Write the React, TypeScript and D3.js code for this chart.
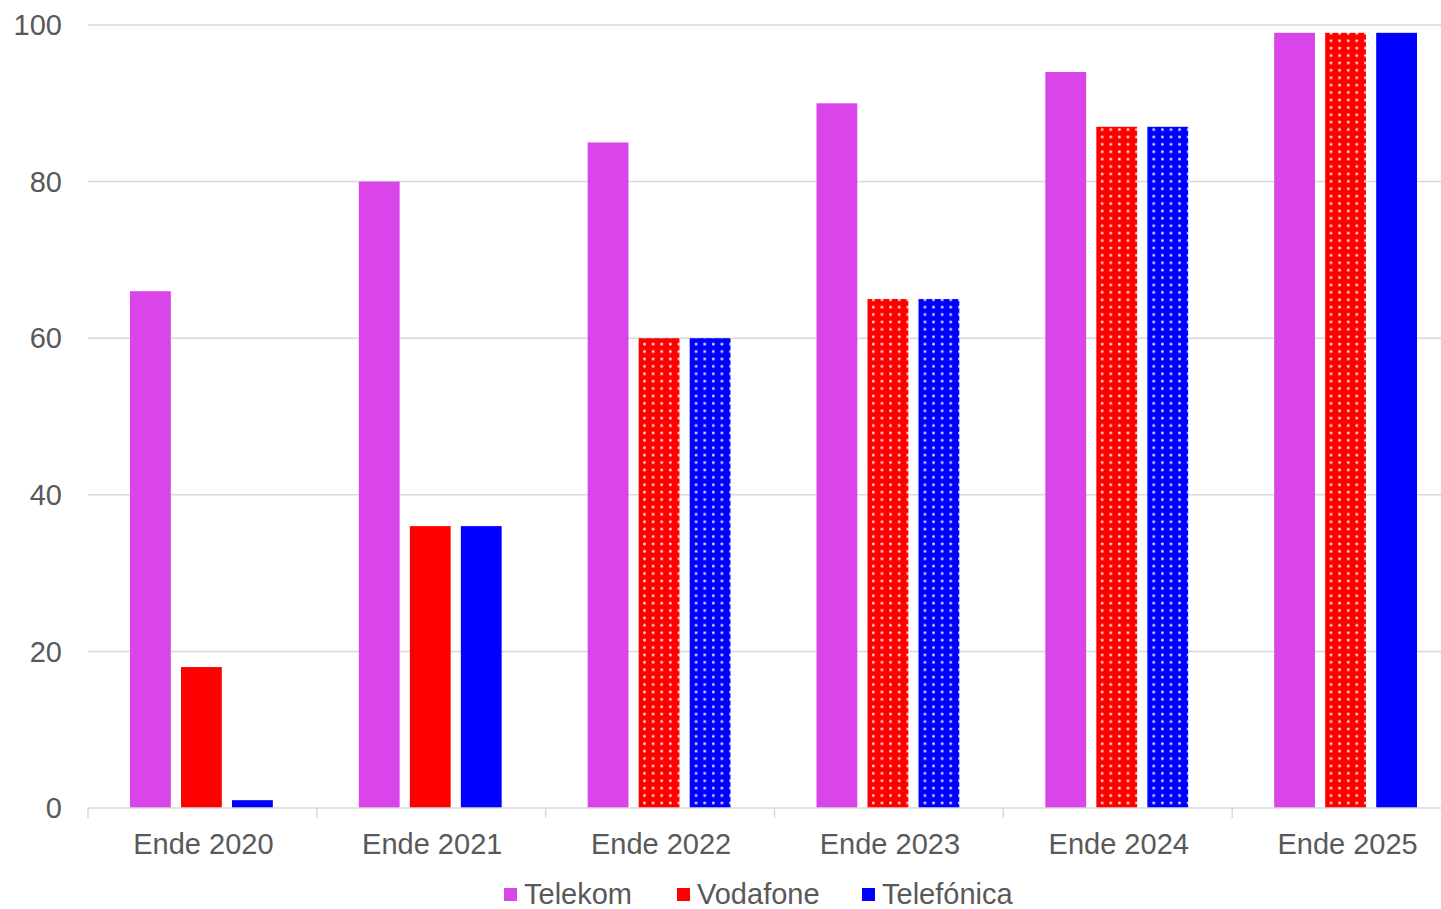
import React from "react";
import * as d3 from "d3";

const categories = ["Ende 2020", "Ende 2021", "Ende 2022", "Ende 2023", "Ende 2024", "Ende 2025"];
const seriesNames = ["Telekom", "Vodafone", "Telefónica"];
const seriesColors = ["#DA45EA", "#FF0000", "#0000FF"];
const telekom = [66, 80, 85, 90, 94, 99];
const vodafone = [18, 36, 60, 65, 87, 99];
const telefonica = [1, 36, 60, 65, 87, 99];
// dotted pattern flags (per series, per category)
const vodafoneDotted = [false, false, true, true, true, true];
const telefonicaDotted = [false, false, true, true, true, false];
const telekomDotted = [false, false, false, false, false, false];
const yTicks = [0, 20, 40, 60, 80, 100];

const W = 1441;
const H = 909;
const FONT = "'Liberation Sans', Arial, sans-serif";

export default function App() {
  const values = [telekom, vodafone, telefonica];
  const dotted = [telekomDotted, vodafoneDotted, telefonicaDotted];
  const left = 88;
  const plotRight = 1461;
  const top = 25;
  const bottom = 808;

  const x = d3.scaleBand<string>().domain(categories).range([left, plotRight]).paddingInner(0).paddingOuter(0);
  const inner = d3
    .scaleBand<string>()
    .domain(seriesNames)
    .range([42, x.bandwidth() - 44])
    .paddingInner(0.2);
  const y = d3.scaleLinear().domain([0, 100]).range([bottom, top]);

  const legendX = [504, 677, 862];

  return (
    <svg
      width={W}
      height={H}
      style={{ position: "fixed", left: 0, top: 0, background: "#fff" }}
      fontFamily={FONT}
    >
      <defs>
        {seriesColors.map((c, i) => (
          <pattern key={i} id={`dots${i}`} width={8.6} height={7.4} patternUnits="userSpaceOnUse">
            <rect width={8.6} height={7.4} fill={c} />
            <rect x={3} y={2.5} width={2.5} height={2.5} fill="#fff" opacity={0.85} />
          </pattern>
        ))}
      </defs>
      {yTicks.map((t) => (
        <g key={t}>
          {t !== 0 && (
            <line x1={left} x2={W} y1={y(t)} y2={y(t)} stroke="#d9d9d9" strokeWidth={1.5} />
          )}
          <text x={62} y={y(t)} dy="0.35em" textAnchor="end" fontSize={29} fill="#595959">
            {t}
          </text>
        </g>
      ))}
      {categories.map((c, ci) => (
        <g key={c} transform={`translate(${x(c)},0)`}>
          {seriesNames.map((s, si) => {
            const v = values[si][ci];
            return (
              <rect
                key={s}
                x={inner(s)}
                y={y(v)}
                width={inner.bandwidth()}
                height={y(0) - y(v)}
                fill={dotted[si][ci] ? `url(#dots${si})` : seriesColors[si]}
              />
            );
          })}
          <text
            x={x.bandwidth() / 2 + 1}
            y={854}
            textAnchor="middle"
            fontSize={29}
            fill="#595959"
          >
            {c}
          </text>
        </g>
      ))}
      <line x1={left} x2={W} y1={bottom} y2={bottom} stroke="#d9d9d9" strokeWidth={1.5} />
      {categories.map((c) => (
        <line key={c} x1={x(c)} x2={x(c)} y1={bottom} y2={bottom + 10} stroke="#d9d9d9" strokeWidth={1.5} />
      ))}
      {seriesNames.map((s, i) => (
        <g key={s} transform={`translate(${legendX[i]},0)`}>
          <rect x={0} y={888} width={13} height={13} fill={seriesColors[i]} />
          <text x={20} y={904} fontSize={29} fill="#595959">
            {s}
          </text>
        </g>
      ))}
    </svg>
  );
}
